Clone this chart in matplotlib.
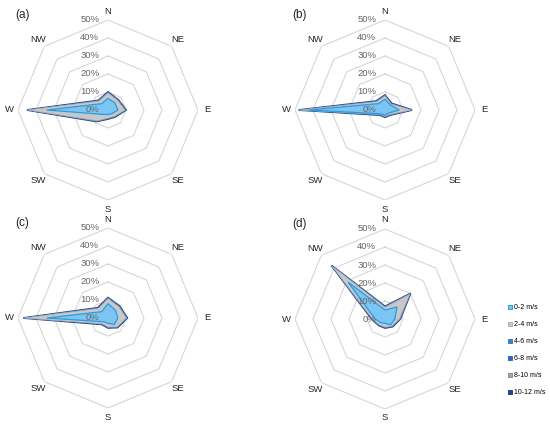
import numpy as np
import matplotlib.pyplot as plt
from matplotlib.lines import Line2D

plt.rcParams['font.family'] = ['Liberation Sans', 'DejaVu Sans']

# --- data: frequency (%) per wind-speed bin, directions N..NW clockwise ---
directions = ["N", "NE", "E", "SE", "S", "SW", "W", "NW"]
speed_bins = ["0-2 m/s", "2-4 m/s", "4-6 m/s", "6-8 m/s", "8-10 m/s", "10-12 m/s"]
ring_values = [0, 10, 20, 30, 40, 50]
ring_labels = ["0%", "10%", "20%", "30%", "40%", "50%"]

panel_a = [
    [6.5, 5.5, 5.5, 3.0, 2.5, 3.5, 34.0, 5.0],
    [3.0, 2.0, 4.0, 2.0, 2.0, 5.0, 10.5, 2.0],
    [0.2, 0.2, 0.2, 0.2, 0.2, 0.2, 0.2, 0.2],
    [0.1, 0.1, 0.1, 0.1, 0.1, 0.1, 0.1, 0.1],
    [0.1, 0.1, 0.1, 0.1, 0.1, 0.1, 0.1, 0.1],
    [0.1, 0.1, 0.1, 0.1, 0.1, 0.1, 0.1, 0.1],
]
panel_b = [
    [6.0, 4.0, 8.0, 2.5, 2.8, 3.0, 42.5, 5.0],
    [1.8, 0.7, 6.5, 1.0, 0.7, 0.5, 5.0, 1.5],
    [0.2, 0.2, 0.2, 0.2, 0.2, 0.2, 0.2, 0.2],
    [0.1, 0.1, 0.1, 0.1, 0.1, 0.1, 0.1, 0.1],
    [0.1, 0.1, 0.1, 0.1, 0.1, 0.1, 0.1, 0.1],
    [0.1, 0.1, 0.1, 0.1, 0.1, 0.1, 0.1, 0.1],
]
panel_c = [
    [8.0, 6.0, 5.5, 5.0, 3.0, 3.0, 34.0, 5.0],
    [2.8, 2.7, 4.7, 2.0, 2.0, 1.5, 12.5, 2.5],
    [0.2, 0.2, 0.2, 0.2, 0.2, 0.2, 0.2, 0.2],
    [0.1, 0.1, 0.1, 0.1, 0.1, 0.1, 0.1, 0.1],
    [0.1, 0.1, 0.1, 0.1, 0.1, 0.1, 0.1, 0.1],
    [0.1, 0.1, 0.1, 0.1, 0.1, 0.1, 0.1, 0.1],
]
panel_d = [
    [5.0, 9.5, 5.5, 4.5, 2.4, 3.0, 5.5, 29.0],
    [1.5, 10.0, 2.5, 1.0, 2.1, 1.5, 1.4, 12.5],
    [0.2, 0.2, 0.2, 0.2, 0.2, 0.2, 0.2, 0.2],
    [0.1, 0.1, 0.1, 0.1, 0.1, 0.1, 0.1, 0.1],
    [0.1, 0.1, 0.1, 0.1, 0.1, 0.1, 0.1, 0.1],
    [0.1, 0.1, 0.1, 0.1, 0.1, 0.1, 0.1, 0.1],
]

panels = [("(a)", panel_a), ("(b)", panel_b), ("(c)", panel_c), ("(d)", panel_d)]

fill_colors = ["#7CC5F2", "#C8C8C8", "#3B7FC4", "#2E6AB3", "#A8A8A8", "#24438C"]
edge_colors = ["#2A9BE0", "#B0B0B0", "#3B7FC4", "#2E6AB3", "#8A8A8A", "#24438C"]
edge_widths = [0.9, 0.4, 0.3, 0.3, 0.3, 1.3]

# panel centres in pixels (x, y from top), radius of 50% ring
W, H = 550, 424
centres = [(108, 110), (385, 110), (108, 318), (385, 319)]
R = 90

fig = plt.figure(figsize=(W / 100, H / 100), dpi=100)

theta = np.linspace(0, 2 * np.pi, len(directions), endpoint=False)
theta_c = np.append(theta, theta[0])

for (tag, data), (cx, cy) in zip(panels, centres):
    ax = fig.add_axes([(cx - R) / W, (H - cy - R) / H, 2 * R / W, 2 * R / H],
                      projection='polar')
    ax.set_theta_zero_location('N')
    ax.set_theta_direction(-1)
    ax.set_ylim(0, 50)
    ax.grid(False)
    ax.spines['polar'].set_visible(False)
    ax.set_xticks([])
    ax.set_yticks([])
    ax.patch.set_alpha(0)

    # octagon rings
    for rv in ring_values[1:]:
        ax.plot(theta_c, [rv] * len(theta_c), color="#D6D6D6", lw=0.8, zorder=1)

    # stacked (cumulative) polygons, outermost first
    cum = np.cumsum(np.array(data), axis=0)
    for i in range(len(speed_bins) - 1, -1, -1):
        r = np.append(cum[i], cum[i][0])
        ax.fill(theta_c, r, facecolor=fill_colors[i], edgecolor=edge_colors[i],
                lw=edge_widths[i], zorder=2 + (5 - i))

    # ring labels
    for rv, lab in zip(ring_values, ring_labels):
        ax.annotate(lab, xy=(0, rv), xytext=(-6.3, 0), textcoords='offset points',
                    ha='right', va='center', fontsize=6.8, color="#666666",
                    zorder=20)

    # direction labels
    for t, d in zip(theta, directions):
        ax.text(t, 55, d, ha='center', va='center', fontsize=6.8,
                color="#262626")

    fig.text((cx - 93) / W, 1 - (cy - 95) / H, tag, ha='left', va='center',
             fontsize=8.5, color="#262626")

handles = [Line2D([], [], marker='s', linestyle='none', markersize=3.0,
                  markerfacecolor=fc, markeredgecolor=ec, markeredgewidth=0.7)
           for fc, ec in zip(fill_colors, edge_colors)]
fig.legend(handles, speed_bins, loc='upper left',
           bbox_to_anchor=(508 / W, 1 - 304 / H), frameon=False,
           fontsize=5.0, labelspacing=1.45, handlelength=0.6,
           handletextpad=0.25, borderpad=0, borderaxespad=0)

fig.savefig("out.png", dpi=100)
